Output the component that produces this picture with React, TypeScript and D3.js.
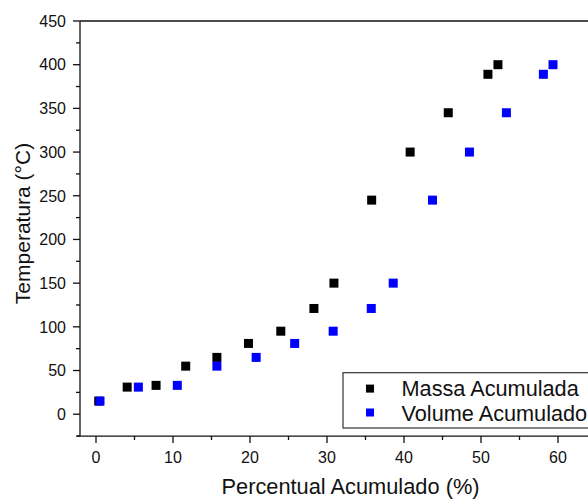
import React from "react";
import * as d3 from "d3";

const temperatures = [15, 31, 33, 55, 65, 81, 95, 121, 150, 245, 300, 345, 389, 400];
const massaX = [0.35, 4.05, 7.8, 11.65, 15.7, 19.8, 24.0, 28.3, 30.9, 35.8, 40.8, 45.75, 50.9, 52.2];
const volumeX = [0.52, 5.5, 10.56, 15.7, 20.8, 25.8, 30.8, 35.75, 38.6, 43.7, 48.5, 53.3, 58.1, 59.35];
const xTickValues = [0, 10, 20, 30, 40, 50, 60];
const xMinorValues = [5, 15, 25, 35, 45, 55, 65];
const yTickValues = [0, 50, 100, 150, 200, 250, 300, 350, 400, 450];
const yMinorValues = [-25, 25, 75, 125, 175, 225, 275, 325, 375, 425];
const seriesNames = ["Massa Acumulada", "Volume Acumulado"];
const seriesColors = ["#000000", "#0000ff"];

const W = 588;
const H = 499;
const FONT = "'Liberation Sans', Arial, sans-serif";

export default function App() {
  const x = d3.scaleLinear().domain([0, 60]).range([96, 558]);
  const y = d3.scaleLinear().domain([0, 450]).range([414.2, 21]);
  const left = 80;
  const right = 620;
  const top = y(450);
  const bottom = y(-25);
  const ms = 9;

  const series = [massaX, volumeX];

  return (
    <svg
      width={W}
      height={H}
      style={{ position: "absolute", left: 0, top: 0, background: "#fff" }}
      fontFamily={FONT}
    >
      <rect x={0} y={0} width={W} height={H} fill="#fff" />
      {/* frame */}
      <line x1={left} x2={right} y1={top} y2={top} stroke="#111" strokeWidth={1.3} />
      <line x1={left} x2={left} y1={top} y2={bottom} stroke="#111" strokeWidth={1.3} />
      <line x1={left - 3} x2={right} y1={bottom} y2={bottom} stroke="#111" strokeWidth={1.3} />

      {/* y ticks */}
      {yTickValues.map((v) => (
        <g key={"yt" + v}>
          <line x1={left - 7} x2={left} y1={y(v)} y2={y(v)} stroke="#111" strokeWidth={1.3} />
          <text x={66} y={y(v)} dy="0.36em" textAnchor="end" fontSize={16} fill="#111">
            {v}
          </text>
        </g>
      ))}
      {yMinorValues.map((v) => (
        <line key={"ym" + v} x1={left - 4} x2={left} y1={y(v)} y2={y(v)} stroke="#111" strokeWidth={1.3} />
      ))}

      {/* x ticks */}
      {xTickValues.map((v) => (
        <g key={"xt" + v}>
          <line x1={x(v)} x2={x(v)} y1={bottom} y2={bottom + 7} stroke="#111" strokeWidth={1.3} />
          <text x={x(v)} y={462.5} textAnchor="middle" fontSize={16} fill="#111">
            {v}
          </text>
        </g>
      ))}
      {xMinorValues.map((v) => (
        <line key={"xm" + v} x1={x(v)} x2={x(v)} y1={bottom} y2={bottom + 4} stroke="#111" strokeWidth={1.3} />
      ))}

      {/* axis titles */}
      <text x={350.5} y={494} textAnchor="middle" fontSize={21.8} fill="#111">
        Percentual Acumulado (%)
      </text>
      <text
        transform={`translate(30, 223.5) rotate(-90)`}
        textAnchor="middle"
        fontSize={21}
        fill="#111"
      >
        Temperatura (°C)
      </text>

      {/* data */}
      {series.map((xs, si) =>
        xs.map((xv, i) => (
          <rect
            key={`p${si}-${i}`}
            x={x(xv) - ms / 2}
            y={y(temperatures[i]) - ms / 2}
            width={ms}
            height={ms}
            fill={seriesColors[si]}
          />
        ))
      )}

      {/* legend */}
      <rect x={343} y={372.7} width={300} height={55.3} fill="#fff" stroke="#333" strokeWidth={1.2} />
      {seriesNames.map((name, i) => (
        <g key={"lg" + i}>
          <rect x={370 - 4} y={(i === 0 ? 388.6 : 412.5) - 4} width={8} height={8} fill={seriesColors[i]} />
          <text x={401.5} y={i === 0 ? 395.5 : 420.5} fontSize={21.7} fill="#111">
            {name}
          </text>
        </g>
      ))}
    </svg>
  );
}
